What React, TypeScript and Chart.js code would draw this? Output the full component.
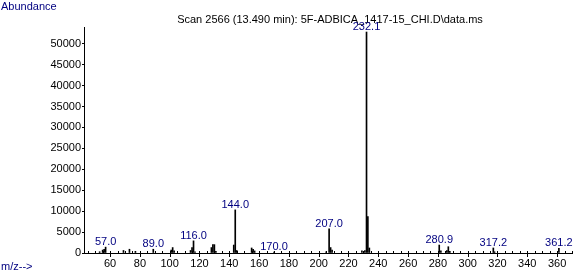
import { useEffect, useRef } from "react";
import { Chart, registerables } from "chart.js";

Chart.register(...registerables);

// m/z values of the ions and their abundances
const mzValues = [
  53, 55, 56, 57, 69, 73, 77, 89, 101, 102, 103, 114, 115, 116, 117, 128, 129, 130, 131,
  143, 144, 145, 155, 156, 157, 170, 205, 207, 208, 209, 229, 231, 232.1, 233, 234,
  280.9, 282, 286, 287, 288, 317.2, 318, 361.2,
];
const abundances = [
  300, 700, 900, 1400, 600, 900, 400, 900, 700, 1300, 500, 600, 1300, 2900, 300, 1300, 2000, 2000, 400,
  1900, 10300, 600, 1200, 900, 500, 200, 300, 5800, 1300, 700, 500, 600, 52800, 8700, 1200,
  1900, 500, 600, 1500, 400, 1200, 300, 1100,
];
// annotated peaks
const labelledMz = [57, 89, 116, 144, 170, 207, 232.1, 280.9, 317.2, 361.2];
const peakLabels = ["57.0", "89.0", "116.0", "144.0", "170.0", "207.0", "232.1", "280.9", "317.2", "361.2"];

// axis tick values
const yTickValues = [0, 5000, 10000, 15000, 20000, 25000, 30000, 35000, 40000, 45000, 50000];
const xTickValues = [60, 80, 100, 120, 140, 160, 180, 200, 220, 240, 260, 280, 300, 320, 340, 360];

const xMin = 42.5;
const xMax = 370;
const yMax = 54000;
const xMinorStep = 5;

const titleText = "Scan 2566 (13.490 min): 5F-ADBICA_1417-15_CHI.D\\data.ms";
const yAxisTitle = "Abundance";
const xAxisTitle = "m/z-->";

const FONT = '"Liberation Sans", Arial, sans-serif';
const NAVY = "#000080";

export default function App() {
  const ref = useRef<HTMLCanvasElement>(null);

  useEffect(() => {
    if (!ref.current) return;
    const textPlugin = {
      id: "msText",
      afterDraw(chart: any) {
        const ctx = chart.ctx;
        const xs = chart.scales.x;
        const ys = chart.scales.y;
        ctx.save();
        ctx.font = `11px ${FONT}`;
        // axis titles
        ctx.fillStyle = NAVY;
        ctx.textAlign = "left";
        ctx.textBaseline = "middle";
        ctx.fillText(yAxisTitle, 1, 7);
        ctx.fillText(xAxisTitle, 1, 267);
        // scan title
        ctx.fillStyle = "#000";
        ctx.textAlign = "center";
        ctx.fillText(titleText, 330, 20);
        // minor ticks on x axis
        const y0 = chart.chartArea.bottom;
        ctx.strokeStyle = "#000";
        ctx.lineWidth = 1;
        for (let v = Math.ceil(xMin / xMinorStep) * xMinorStep; v <= xMax; v += xMinorStep) {
          const px = Math.round(xs.getPixelForValue(v)) + 0.5;
          ctx.beginPath();
          ctx.moveTo(px, y0 - 2);
          ctx.lineTo(px, y0 + (xTickValues.includes(v) ? 4 : 1));
          ctx.stroke();
        }
        // peak labels
        ctx.fillStyle = NAVY;
        ctx.textAlign = "center";
        ctx.textBaseline = "alphabetic";
        labelledMz.forEach((mz, i) => {
          const idx = mzValues.indexOf(mz);
          const ab = abundances[idx];
          const px = xs.getPixelForValue(mz);
          const py = ys.getPixelForValue(ab);
          ctx.fillText(peakLabels[i], px, py - 2);
        });
        ctx.restore();
      },
    };

    const chart = new Chart(ref.current, {
      type: "bar",
      data: {
        datasets: [
          {
            data: mzValues.map((m, i) => ({ x: m, y: abundances[i] })),
            backgroundColor: "#000",
            borderWidth: 0,
            barThickness: 1,
            grouped: false,
          } as any,
        ],
      },
      options: {
        animation: false,
        responsive: false,
        devicePixelRatio: 1,
        layout: { padding: { left: 0, right: 13, top: 27, bottom: 0 } },
        plugins: { legend: { display: false }, tooltip: { enabled: false }, title: { display: false } },
        scales: {
          x: {
            type: "linear",
            min: xMin,
            max: xMax,
            offset: false,
            afterBuildTicks(scale: any) {
              scale.ticks = xTickValues.map((v) => ({ value: v }));
            },
            afterFit(scale: any) {
              scale.height = 20;
            },
            border: { display: true, color: "#000", width: 1 },
            grid: { display: false, drawOnChartArea: false, tickLength: 4 },
            ticks: {
              autoSkip: false,
              maxRotation: 0,
              padding: 0,
              color: "#000",
              font: { family: FONT, size: 11 },
              callback: (v: any) => String(v),
            },
          },
          y: {
            type: "linear",
            min: 0,
            max: yMax,
            afterBuildTicks(scale: any) {
              scale.ticks = yTickValues.map((v) => ({ value: v }));
            },
            afterFit(scale: any) {
              scale.width = 84;
            },
            border: { display: true, color: "#000", width: 1 },
            grid: { drawOnChartArea: false, color: "#000", tickLength: 2 },
            ticks: {
              autoSkip: false,
              padding: 1,
              color: "#000",
              font: { family: FONT, size: 11 },
              callback: (v: any) => String(v),
            },
          },
        },
      },
      plugins: [textPlugin],
    });
    return () => chart.destroy();
  }, []);

  return (
    <div style={{ position: "fixed", left: 0, top: 0, width: 585, height: 273, background: "#fff" }}>
      <canvas ref={ref} width={585} height={273} style={{ display: "block" }} />
    </div>
  );
}
